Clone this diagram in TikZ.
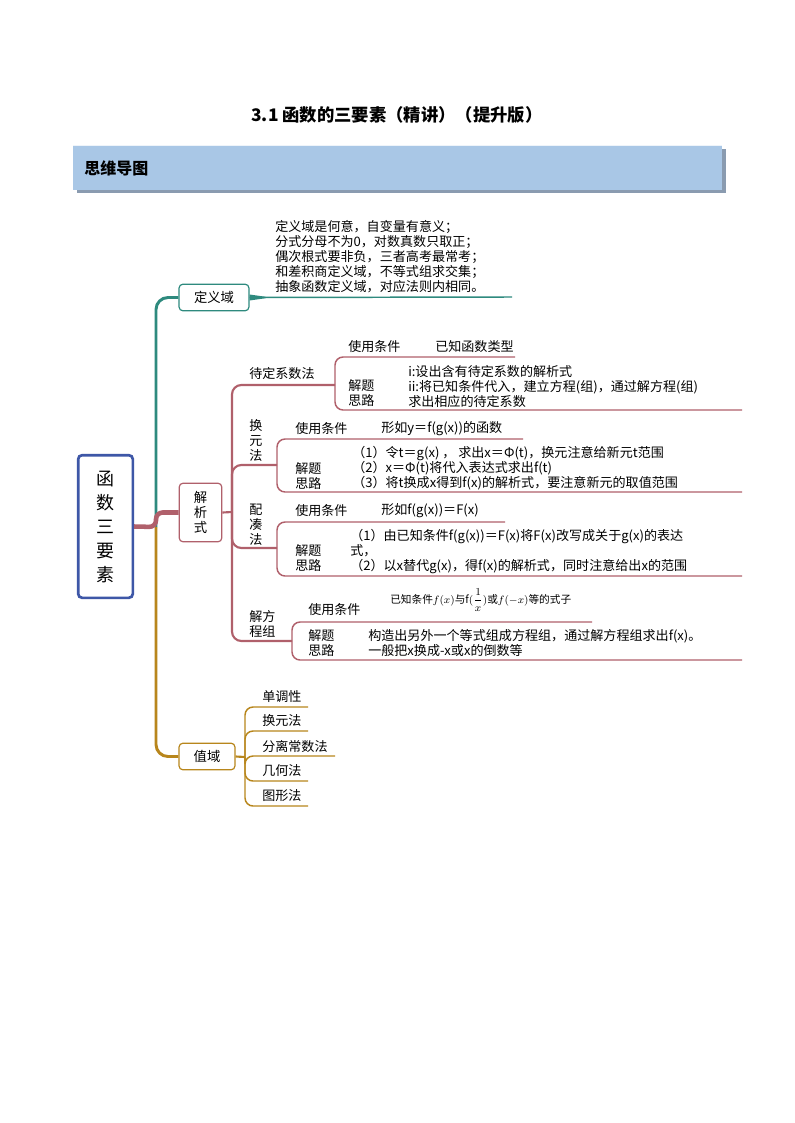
\documentclass[tikz,border=0pt]{standalone}
\usepackage{fontspec}
\setmainfont{Noto Sans CJK SC}
\usetikzlibrary{positioning,calc}
\definecolor{tealc}{HTML}{2E8A7E}
\definecolor{rosec}{HTML}{B0606B}
\definecolor{goldc}{HTML}{B8861C}
\definecolor{bluec}{HTML}{3E57A7}
\definecolor{barc}{HTML}{A9C7E6}
\definecolor{shadc}{HTML}{8A9BB0}

\tikzset{
  box/.style={draw, rounded corners=3pt, line width=0.9pt, fill=white,
    align=center, inner sep=0pt, font=\fontsize{9.8}{11.25}\selectfont},
  txt/.style={anchor=west, inner sep=0pt, align=left,
    font=\fontsize{9.8}{11.25}\selectfont},
  vtxt/.style={inner sep=0pt, align=center,
    font=\fontsize{9.8}{11.25}\selectfont},
  leafline/.style={line width=1.1pt, rounded corners=6pt},
  trunk/.style={line width=2.2pt, rounded corners=9pt}
}

\begin{document}
\begin{tikzpicture}[x=0.75pt, y=-0.75pt]
  \path[fill=white, use as bounding box] (0,0) rectangle (794,1123);

  % title and header bar
  \node[font=\fontsize{13}{15}\bfseries\selectfont](title) at (397,115)
    {3.1 函数的三要素（精讲）（提升版）};
  \fill[shadc] (77,149) rectangle (726,193);
  \fill[barc] (73,145) rectangle (722,190);
  \draw[white!80!barc, line width=1pt] (73,145.5) -- (722,145.5);
  \node[anchor=west, inner sep=0pt, font=\fontsize{12}{14}\bfseries\selectfont](head)
    at (84,168) {思维导图};

  % main nodes
  \node[box, draw=bluec, line width=2pt, minimum width=41pt, minimum height=107pt,
    font=\fontsize{13.5}{18}\selectfont](root) at (105.5,526.5) {函\\数\\三\\要\\素};
  \node[box, draw=tealc, minimum width=52.5pt, minimum height=20pt,
    font=\fontsize{10}{12}\selectfont](defn) at (214,297.5) {定义域};
  \node[box, draw=rosec, minimum width=32pt, minimum height=44pt,
    font=\fontsize{10}{11.5}\selectfont](jx) at (200.5,512.5) {解\\析\\式};
  \node[box, draw=goldc, minimum width=42pt, minimum height=20pt,
    font=\fontsize{10}{12}\selectfont](zy) at (207,756.5) {值域};

  \coordinate (hub) at (156,527);
  \draw[tealc, trunk] (hub) |- (defn.west);
  \draw[goldc, trunk] (hub) |- (zy.west);
  \draw[rosec, line width=3.4pt, rounded corners=5pt] (root.east) -- (hub) |- (jx.west);

  % definition domain
  \coordinate (dline) at (512,297);
  \fill[tealc] ($(defn.east)+(0,-3)$) -- ($(defn.east)+(16,-0.7)$)
    -- ($(defn.east)+(16,0.7)$) -- ($(defn.east)+(0,3)$) -- cycle;
  \draw[tealc, line width=1.1pt] (defn.east) -- (dline);
  \node[txt, anchor=south west](defntxt) at (275,293.5)
    {定义域是何意，自变量有意义；\\分式分母不为0，对数真数只取正；\\偶次根式要非负，三者高考最常考；\\和差积商定义域，不等式组求交集；\\抽象函数定义域，对应法则内相同。};

  % analytic expression
  \coordinate (jxhub) at (232,512);
  \coordinate (ddj) at (335,385);
  \coordinate (hyj) at (277,465);
  \coordinate (pcj) at (277,548);
  \coordinate (jfj) at (292,641);
  \draw[rosec, line width=1.6pt] (jx.east) -- (jxhub);
  \draw[rosec, line width=1.6pt, rounded corners=7pt] (ddj) -| (jxhub) |- (jfj);
  \draw[rosec, line width=1.6pt, rounded corners=7pt] (jxhub) |- (hyj);
  \draw[rosec, line width=1.6pt, rounded corners=7pt] (jxhub) |- (pcj);

  % undetermined coefficients
  \node[txt](dd) at (249,374) {待定系数法};
  \node[txt](dduse) at (348,347) {使用条件};
  \node[txt](ddcond) at (435,347) {已知函数类型};
  \node[txt](ddsol) at (348,393) {解题\\思路};
  \node[txt](ddsteps) at (408,386.5)
    {i:设出含有待定系数的解析式\\ii:将已知条件代入，建立方程(组)，通过解方程(组)\\求出相应的待定系数};
  \coordinate (ddtop) at (515,357);
  \coordinate (ddbot) at (742,410);
  \draw[rosec, leafline] (ddtop) -| (ddj) |- (ddbot);

  % substitution
  \node[vtxt](hy) at (256,441) {换\\元\\法};
  \node[txt](hyuse) at (295,429) {使用条件};
  \node[txt](hycond) at (381,429) {形如y＝f(g(x))的函数};
  \node[txt](hysol) at (295,476) {解题\\思路};
  \node[txt](hysteps) at (352,468.5)
    {（1）令t＝g(x)\ ，\ 求出x＝Φ(t)，换元注意给新元t范围\\（2）x＝Φ(t)将代入表达式求出f(t)\\（3）将t换成x得到f(x)的解析式，要注意新元的取值范围};
  \coordinate (hytop) at (523,439);
  \coordinate (hybot) at (742,492);
  \draw[rosec, leafline] (hytop) -| (hyj) |- (hybot);

  % matching
  \node[vtxt](pc) at (256,525) {配\\凑\\法};
  \node[txt](pcuse) at (295,511) {使用条件};
  \node[txt](pccond) at (381,511) {形如f(g(x))＝F(x)};
  \node[txt](pcsol) at (295,558.5) {解题\\思路};
  \node[txt](pcsteps) at (350,551.5)
    {（1）由已知条件f(g(x))＝F(x)将F(x)改写成关于g(x)的表达\\式，\\（2）以x替代g(x)，得f(x)的解析式，同时注意给出x的范围};
  \coordinate (pctop) at (505,522);
  \coordinate (pcbot) at (742,576);
  \draw[rosec, leafline] (pctop) -| (pcj) |- (pcbot);

  % system of equations
  \node[txt](jf) at (249,624) {解方\\程组};
  \node[txt](jfuse) at (308,610) {使用条件};
  \node[txt, font=\fontsize{8}{9}\selectfont](jfcond) at (390,600)
    {已知条件$f(x)$与f$(\displaystyle\frac{1}{x})$或$f(-x)$等的式子};
  \node[txt](jfsol) at (308,643.5) {解题\\思路};
  \node[txt](jfsteps) at (368,643.5)
    {构造出另外一个等式组成方程组，通过解方程组求出f(x)。\\一般把x换成-x或x的倒数等};
  \coordinate (jftop) at (592,622);
  \coordinate (jfbot) at (742,660);
  \draw[rosec, leafline] (jftop) -| (jfj) |- (jfbot);

  % range
  \coordinate (zyhub) at (245,757);
  \draw[goldc, line width=1.6pt] (zy.east) -- (zyhub);
  \node[txt](z1) at (262,697) {单调性};
  \node[txt](z2) at (262,721) {换元法};
  \node[txt](z3) at (262,746) {分离常数法};
  \node[txt](z4) at (262,771) {几何法};
  \node[txt](z5) at (262,796) {图形法};
  \coordinate (z1end) at (308,707);
  \coordinate (z2end) at (308,731);
  \coordinate (z3end) at (335,756);
  \coordinate (z4end) at (308,781);
  \coordinate (z5end) at (308,806);
  \draw[goldc, leafline] (zyhub) |- (z1end);
  \draw[goldc, leafline] (zyhub) |- (z2end);
  \draw[goldc, leafline] (zyhub) |- (z3end);
  \draw[goldc, leafline] (zyhub) |- (z4end);
  \draw[goldc, leafline] (zyhub) |- (z5end);
\end{tikzpicture}
\end{document}
